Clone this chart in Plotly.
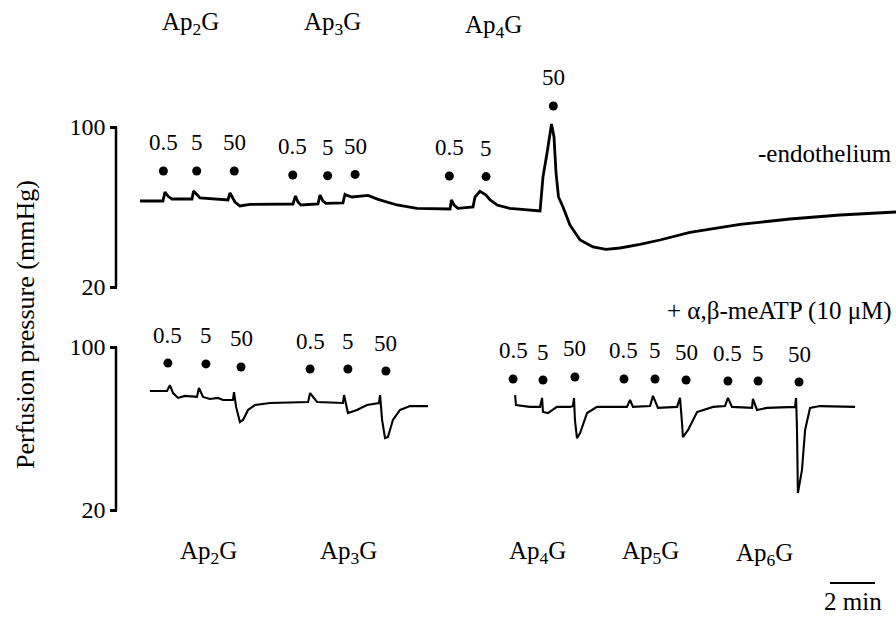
import plotly.graph_objects as go

# ---------------- data (time in min, pressure in mmHg) ----------------
upper_t = [0.00, 1.02, 1.11, 1.24, 1.42, 2.31, 2.38, 2.53, 2.67, 3.91, 4.00, 4.22, 4.44, 4.89,
           6.80, 6.91, 7.02, 7.16, 7.91, 8.00, 8.13, 8.27, 9.02, 9.11, 9.20, 9.42, 9.78, 10.13,
           10.58, 11.42, 12.31, 13.78, 13.84, 13.96, 14.13, 14.80, 14.89, 15.11, 15.38, 15.56,
           15.87, 16.44, 17.78, 17.91, 18.09, 18.29, 18.40, 18.49, 18.60, 18.80, 19.11, 19.56,
           20.13, 20.71, 21.33, 22.22, 23.11, 24.44, 26.67, 28.89, 31.11, 33.60]
upper_p = [63.0, 63.0, 67.5, 65.5, 64.0, 64.0, 68.0, 66.0, 64.5, 63.5, 67.0, 62.5, 60.5, 61.3,
           61.5, 65.5, 62.5, 61.0, 61.5, 66.0, 63.0, 61.8, 62.0, 66.3, 65.8, 65.0, 65.3, 65.8,
           63.8, 61.0, 59.3, 59.0, 63.5, 61.0, 59.3, 60.0, 65.0, 67.8, 66.0, 63.5,
           61.0, 59.3, 58.0, 75.0, 87.0, 101.5, 95.0, 77.0, 65.0, 60.0, 51.0, 43.5,
           40.0, 38.8, 39.5, 41.3, 43.5, 47.3, 51.3, 54.0, 56.0, 57.5]

lower_t_a = [0.44, 1.20, 1.33, 1.47, 1.69, 2.00, 2.53, 2.62, 2.80, 3.11, 3.47, 3.69, 4.13, 4.18,
             4.27, 4.44, 4.58, 4.80, 5.11, 5.78, 7.47, 7.56, 7.87, 9.02, 9.07, 9.24, 9.64, 10.09,
             10.62, 10.67, 10.76, 10.89, 11.02, 11.24, 11.56, 12.00, 12.80]
lower_p_a = [78.4, 78.4, 81.3, 77.4, 75.0, 76.0, 75.5, 79.9, 75.5, 74.5, 75.0, 74.0, 74.0, 77.9,
             70.6, 63.2, 64.2, 69.1, 71.5, 72.5, 73.0, 77.4, 73.0, 72.5, 76.4, 67.6, 69.1, 71.5,
             72.5, 76.4, 64.2, 55.3, 55.8, 64.2, 69.1, 71.0, 71.0]

lower_t_b = [16.67, 16.71, 17.33, 17.78, 17.87, 17.91, 18.13, 18.53, 19.11, 19.24, 19.29, 19.33,
             19.42, 19.56, 19.87, 20.31, 21.64, 21.78, 21.91, 22.67, 22.80, 23.02, 23.87, 24.00,
             24.09, 24.13, 24.36, 24.76, 25.47, 26.00, 26.13, 26.31, 27.20, 27.24, 27.42, 27.87,
             29.11, 29.16, 29.20, 29.24, 29.42, 29.56, 29.78, 30.22, 31.78]
lower_p_b = [76.4, 71.5, 70.6, 70.6, 75.0, 68.1, 67.6, 70.6, 70.6, 71.0, 75.0, 64.2,
             55.3, 57.8, 67.6, 70.6, 70.6, 74.0, 70.6, 71.0, 76.0, 70.1, 70.6, 75.0,
             62.7, 55.8, 59.3, 68.1, 70.6, 71.0, 75.0, 70.6, 70.1, 74.5, 69.1, 70.1,
             70.6, 75.0, 59.3, 28.3, 39.6, 59.3, 70.1, 71.0, 70.6]

upper_dot_t = [1.04, 2.52, 4.19, 6.79, 8.34, 9.56, 13.75, 15.38, 18.37]
upper_dot_p = [78.0, 78.0, 78.0, 76.0, 75.6, 76.3, 75.5, 75.2, 110.5]
upper_dot_lbl = ["0.5", "5", "50", "0.5", "5", "50", "0.5", "5", "50"]

lower_dot_t = [1.24, 2.93, 4.49, 7.56, 9.24, 10.93, 16.58, 17.91, 19.33, 21.51, 22.89, 24.27,
               26.13, 27.47, 29.29]
lower_dot_p = [92.1, 91.7, 90.2, 89.2, 89.2, 88.2, 84.3, 83.8, 85.3, 84.3, 84.3, 83.8,
               83.3, 83.3, 82.8]
lower_dot_lbl = ["0.5", "5", "50"] * 5

bracket_ticks = [20, 100]
bracket_ticktext = ["20", "100"]

top_labels = ["Ap<sub>2</sub>G", "Ap<sub>3</sub>G", "Ap<sub>4</sub>G"]
bottom_labels = ["Ap<sub>2</sub>G", "Ap<sub>3</sub>G", "Ap<sub>4</sub>G", "Ap<sub>5</sub>G", "Ap<sub>6</sub>G"]
scale_bar_min = 2

# ---------------- layout helpers (pixels) ----------------
W, H = 896, 619
FONT = "Liberation Serif, Times New Roman, serif"
PX_PER_MIN = 22.5
T0_PX = 140.0


def yp(py):
    return 1 - py / H


def xp(px):
    return px / W


def t_at(px):
    return (px - T0_PX) / PX_PER_MIN


def axis_setup(y100, y20, top_px, bot_px):
    k = 80.0 / (y20 - y100)
    rng = [100 - (bot_px - y100) * k, 100 - (top_px - y100) * k]
    return dict(domain=[yp(bot_px), yp(top_px)], range=rng)


up_ax = axis_setup(127, 287, 55, 300)
lo_ax = axis_setup(347, 510, 320, 565)

fig = go.Figure()
line_up = dict(color="black", width=2.8)
line_lo = dict(color="black", width=2.1)

fig.add_trace(go.Scatter(x=upper_t, y=upper_p, mode="lines", line=line_up,
                         xaxis="x", yaxis="y", hoverinfo="skip"))
fig.add_trace(go.Scatter(x=lower_t_a, y=lower_p_a, mode="lines", line=line_lo,
                         xaxis="x", yaxis="y2", hoverinfo="skip"))
fig.add_trace(go.Scatter(x=lower_t_b, y=lower_p_b, mode="lines", line=line_lo,
                         xaxis="x", yaxis="y2", hoverinfo="skip"))
fig.add_trace(go.Scatter(x=upper_dot_t, y=upper_dot_p, mode="markers",
                         marker=dict(color="black", size=9), xaxis="x", yaxis="y",
                         hoverinfo="skip", cliponaxis=False))
fig.add_trace(go.Scatter(x=lower_dot_t, y=lower_dot_p, mode="markers",
                         marker=dict(color="black", size=9), xaxis="x", yaxis="y2",
                         hoverinfo="skip", cliponaxis=False))


def font(size):
    return dict(family=FONT, size=size, color="black")


ann = []
for t, p, s in zip(upper_dot_t, upper_dot_p, upper_dot_lbl):
    ann.append(dict(x=t, y=p, xref="x", yref="y", text=s, showarrow=False, yshift=28,
                    xanchor="center", yanchor="middle", font=font(23)))
for t, p, s in zip(lower_dot_t, lower_dot_p, lower_dot_lbl):
    ann.append(dict(x=t, y=p, xref="x", yref="y2", text=s, showarrow=False, yshift=28,
                    xanchor="center", yanchor="middle", font=font(23)))


def paper_text(s, px, py, size=25, xanchor="center", **kw):
    return dict(x=xp(px), y=yp(py), xref="paper", yref="paper", text=s, showarrow=False,
                xanchor=xanchor, yanchor="middle", font=font(size), **kw)


for s, (px, py) in zip(top_labels, [(190, 24), (332, 24), (493, 27)]):
    ann.append(paper_text(s, px, py))
for s, (px, py) in zip(bottom_labels, [(208, 552), (348, 552), (537, 552), (650, 552), (764, 554)]):
    ann.append(paper_text(s, px, py))

ann.append(paper_text("-endothelium", 894, 153, xanchor="right"))
ann.append(paper_text("+ α,β-meATP (10 μM)", 894, 311, xanchor="right"))
ann.append(paper_text("Perfusion pressure (mmHg)", 25, 325, size=26, textangle=-90))

sb_t0 = t_at(830)
ann.append(dict(x=sb_t0 + scale_bar_min / 2, y=yp(601), xref="x", yref="paper",
                text=f"{scale_bar_min} min", showarrow=False, xanchor="center",
                yanchor="middle", font=font(25)))

shapes = [
    dict(type="line", xref="paper", yref="y", x0=xp(116), x1=xp(116), y0=bracket_ticks[0],
         y1=bracket_ticks[1], line=dict(color="black", width=2.5)),
    dict(type="line", xref="paper", yref="y2", x0=xp(116), x1=xp(116), y0=bracket_ticks[0],
         y1=bracket_ticks[1], line=dict(color="black", width=2.5)),
    dict(type="line", xref="x", yref="paper", x0=sb_t0, x1=sb_t0 + scale_bar_min,
         y0=yp(583), y1=yp(583), line=dict(color="black", width=2)),
]

yaxis_common = dict(showgrid=False, zeroline=False, showline=False, ticks="outside",
                    ticklen=7, tickwidth=2.5, tickcolor="black", tickvals=bracket_ticks,
                    ticktext=bracket_ticktext, anchor="free", position=xp(117.2),
                    tickfont=font(24), automargin=False, fixedrange=True)

fig.update_layout(
    width=W, height=H, margin=dict(l=0, r=0, t=0, b=0),
    paper_bgcolor="white", plot_bgcolor="rgba(0,0,0,0)", showlegend=False,
    template="none",
    xaxis=dict(domain=[0, 1], range=[t_at(0), t_at(W)], visible=False, fixedrange=True),
    yaxis=dict(domain=up_ax["domain"], range=up_ax["range"], **yaxis_common),
    yaxis2=dict(domain=lo_ax["domain"], range=lo_ax["range"], **yaxis_common),
    annotations=ann, shapes=shapes,
)

fig.write_html("out.html")
